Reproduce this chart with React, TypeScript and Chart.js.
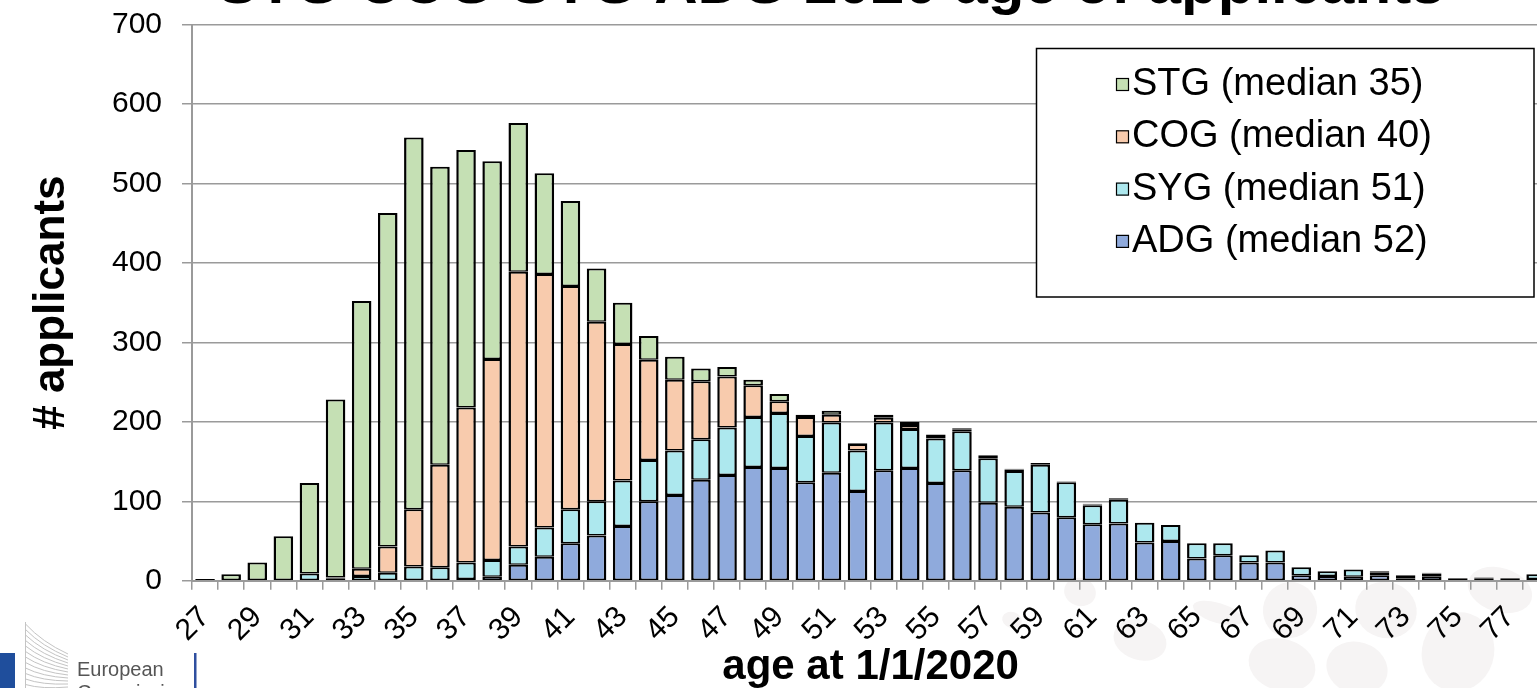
import React, { useEffect, useRef } from "react";
import { Chart, registerables } from "chart.js";

Chart.register(...registerables);

// ---- data ----
const AGES: string[] = [
  "27", "28", "29", "30", "31", "32", "33", "34", "35", "36", "37", "38", "39",
  "40", "41", "42", "43", "44", "45", "46", "47", "48", "49", "50", "51", "52",
  "53", "54", "55", "56", "57", "58", "59", "60", "61", "62", "63", "64", "65",
  "66", "67", "68", "69", "70", "71", "72", "73", "74", "75", "76", "77", "78",
];

const ADG: number[] = [
  0, 0, 0, 0, 0, 1, 0, 0, 0, 0, 2, 5, 20,
  30, 47, 57, 69, 100, 108, 127, 133, 143, 142, 124, 136, 113,
  139, 142, 123, 139, 98, 93, 86, 80, 71, 72, 48, 50, 28,
  32, 23, 23, 7, 6, 5, 7, 3, 5, 2, 2, 2, 2,
];

const SYG: number[] = [
  0, 0, 0, 0, 9, 2, 6, 10, 18, 17, 21, 21, 23,
  37, 43, 43, 57, 52, 56, 51, 60, 63, 69, 58, 63, 51,
  60, 49, 56, 49, 56, 45, 60, 44, 24, 30, 25, 20, 19,
  15, 9, 15, 10, 6, 9, 3, 3, 4, 1, 1, 1, 6,
];

const COG: number[] = [
  0, 0, 0, 0, 0, 1, 9, 33, 72, 129, 195, 253, 346,
  319, 281, 226, 172, 126, 89, 73, 64, 40, 15, 24, 10, 8,
  6, 5, 3, 2, 3, 2, 1, 1, 1, 1, 0, 0, 0,
  0, 0, 0, 0, 0, 0, 1, 1, 1, 0, 1, 0, 0,
];

const STG: number[] = [
  2, 8, 23, 56, 114, 224, 337, 420, 468, 375, 324, 249, 187,
  127, 107, 67, 52, 30, 29, 16, 12, 7, 9, 3, 5, 1,
  4, 4, 2, 2, 1, 1, 1, 0, 1, 1, 0, 0, 0,
  0, 0, 0, 0, 0, 0, 1, 0, 0, 0, 0, 0, 0,
];

const SERIES_LEGEND: string[] = [
  "ADG (median 52)",
  "SYG (median 51)",
  "COG (median 40)",
  "STG (median 35)",
];
const SERIES_COLORS: string[] = ["#8FAADC", "#ADE8EE", "#F8CBAD", "#C5E0B4"];

const Y_MIN = 0;
const Y_MAX = 700;
const Y_STEP = 100;

const CHART_TITLE = "STG COG SYG ADG 2020 age of applicants";
const X_TITLE = "age at 1/1/2020";
const Y_TITLE = "# applicants";

const FONT = "'Liberation Sans', Arial, Helvetica, sans-serif";

const BLOBS: [number, number, number, number][] = [
  [1080, 592, 16, 14],
  [1140, 640, 27, 20],
  [1218, 613, 26, 10],
  [1012, 620, 10, 8],
  [1282, 665, 34, 26],
  [1290, 610, 27, 28],
  [1357, 668, 31, 26],
  [1386, 610, 31, 28],
  [1458, 652, 36, 40],
  [1500, 590, 33, 22],
];

export default function App() {
  const ref = useRef<HTMLCanvasElement>(null);

  useEffect(() => {
    const canvas = ref.current;
    if (!canvas) return;

    const decor = {
      id: "decor",
      beforeDraw(chart: any) {
        const ctx = chart.ctx as CanvasRenderingContext2D;
        ctx.save();
        ctx.fillStyle = "#ffffff";
        ctx.fillRect(0, 0, chart.width, chart.height);
        ctx.fillStyle = "#f6f4f4";
        for (const [x, y, rx, ry] of BLOBS) {
          ctx.beginPath();
          ctx.ellipse(x, y, rx, ry, 0.3, 0, Math.PI * 2);
          ctx.fill();
        }
        ctx.restore();
      },
      afterDraw(chart: any) {
        const ctx = chart.ctx as CanvasRenderingContext2D;
        ctx.save();
        // chart title (cut off at top)
        ctx.fillStyle = "#000";
        ctx.font = `bold 60px ${FONT}`;
        ctx.textAlign = "center";
        ctx.textBaseline = "alphabetic";
        ctx.fillText(CHART_TITLE, 831, 3);

        // legend box
        const lx = 1036.5, ly = 48.5, lw = 1534 - 1036.5, lh = 297 - 48.5;
        ctx.fillStyle = "#fff";
        ctx.fillRect(lx, ly, lw, lh);
        ctx.strokeStyle = "#000";
        ctx.lineWidth = 1.5;
        ctx.strokeRect(lx, ly, lw, lh);
        const ds = chart.data.datasets;
        ctx.font = `38px ${FONT}`;
        ctx.textAlign = "left";
        for (let r = 0; r < ds.length; r++) {
          const d = ds[ds.length - 1 - r];
          const base = 95 + r * 52.3;
          ctx.fillStyle = d.backgroundColor;
          ctx.fillRect(1116, base - 17, 13, 13);
          ctx.lineWidth = 1.2;
          ctx.strokeStyle = "#000";
          ctx.strokeRect(1116.5, base - 16.5, 12, 12);
          ctx.fillStyle = "#000";
          ctx.fillText(d.label, 1132, base);
        }

        // logo
        ctx.fillStyle = "#1f4e9c";
        ctx.fillRect(0, 653, 15, 40);
        ctx.strokeStyle = "#c4c4c4";
        ctx.lineWidth = 1;
        ctx.beginPath();
        ctx.moveTo(25.5, 622);
        ctx.lineTo(25.5, 690);
        ctx.stroke();
        for (let k = 0; k < 12; k++) {
          ctx.beginPath();
          ctx.moveTo(25.5, 624 + k * 5.5);
          ctx.quadraticCurveTo(42, 642 + k * 4.3, 68, 654 + k * 3);
          ctx.stroke();
        }
        ctx.fillStyle = "#555";
        ctx.font = `20px ${FONT}`;
        ctx.textAlign = "left";
        ctx.fillText("European", 77, 676);
        ctx.fillText("Commission", 77, 699);
        ctx.fillStyle = "#2f4f9f";
        ctx.fillRect(194, 653, 2.5, 40);
        ctx.restore();
      },
    };

    const values = [ADG, SYG, COG, STG];
    const chart = new Chart(canvas, {
      type: "bar",
      data: {
        labels: AGES,
        datasets: values.map((v, i) => ({
          label: SERIES_LEGEND[i],
          data: v,
          backgroundColor: SERIES_COLORS[i],
          borderColor: "#000",
          borderWidth: { top: 2, bottom: 1.5, left: 2.5, right: 2.5 },
          borderSkipped: false,
          barPercentage: 0.75,
          categoryPercentage: 1,
          stack: "s",
        })),
      },
      options: {
        responsive: false,
        animation: false,
        events: [],
        layout: { padding: { left: 0, right: 1565 - 1549.2, top: 24.6, bottom: 0 } },
        plugins: {
          legend: { display: false },
          title: { display: false },
          tooltip: { enabled: false },
        },
        scales: {
          x: {
            stacked: true,
            offset: true,
            grid: {
              drawOnChartArea: false,
              drawTicks: true,
              tickLength: 9,
              color: "#9a9a9a",
              lineWidth: 1.5,
            },
            border: { color: "#9a9a9a", width: 2 },
            ticks: {
              autoSkip: false,
              minRotation: 45,
              maxRotation: 45,
              padding: 10,
              color: "#000",
              font: { family: FONT, size: 30 },
              callback: (_v: any, i: number) => (i % 2 === 0 ? AGES[i] : ""),
            },
            title: {
              display: true,
              text: X_TITLE,
              color: "#000",
              font: { family: FONT, size: 42, weight: "bold" },
              padding: { top: 0, bottom: 7 },
            },
            afterFit: (s: any) => {
              s.height = 700 - 580.7;
              s.paddingLeft = 0;
              s.paddingRight = 0;
            },
          },
          y: {
            stacked: true,
            min: Y_MIN,
            max: Y_MAX,
            grid: {
              color: "#9a9a9a",
              lineWidth: 1.5,
              tickLength: 10,
              drawTicks: true,
            },
            border: { color: "#9a9a9a", width: 2 },
            ticks: {
              stepSize: Y_STEP,
              padding: 20,
              color: "#000",
              font: { family: FONT, size: 30 },
            },
            title: {
              display: true,
              text: Y_TITLE,
              color: "#000",
              font: { family: FONT, size: 44, weight: "bold" },
              padding: { top: 25, bottom: 0 },
            },
            afterFit: (s: any) => {
              s.width = 192;
              s.paddingTop = 0;
              s.paddingBottom = 0;
            },
          },
        },
      },
      plugins: [decor],
    } as any);

    return () => chart.destroy();
  }, []);

  return (
    <div
      style={{
        position: "fixed",
        left: 0,
        top: 0,
        width: 1537,
        height: 688,
        overflow: "hidden",
        background: "#fff",
      }}
    >
      <canvas ref={ref} width={1565} height={700} style={{ display: "block" }} />
    </div>
  );
}
